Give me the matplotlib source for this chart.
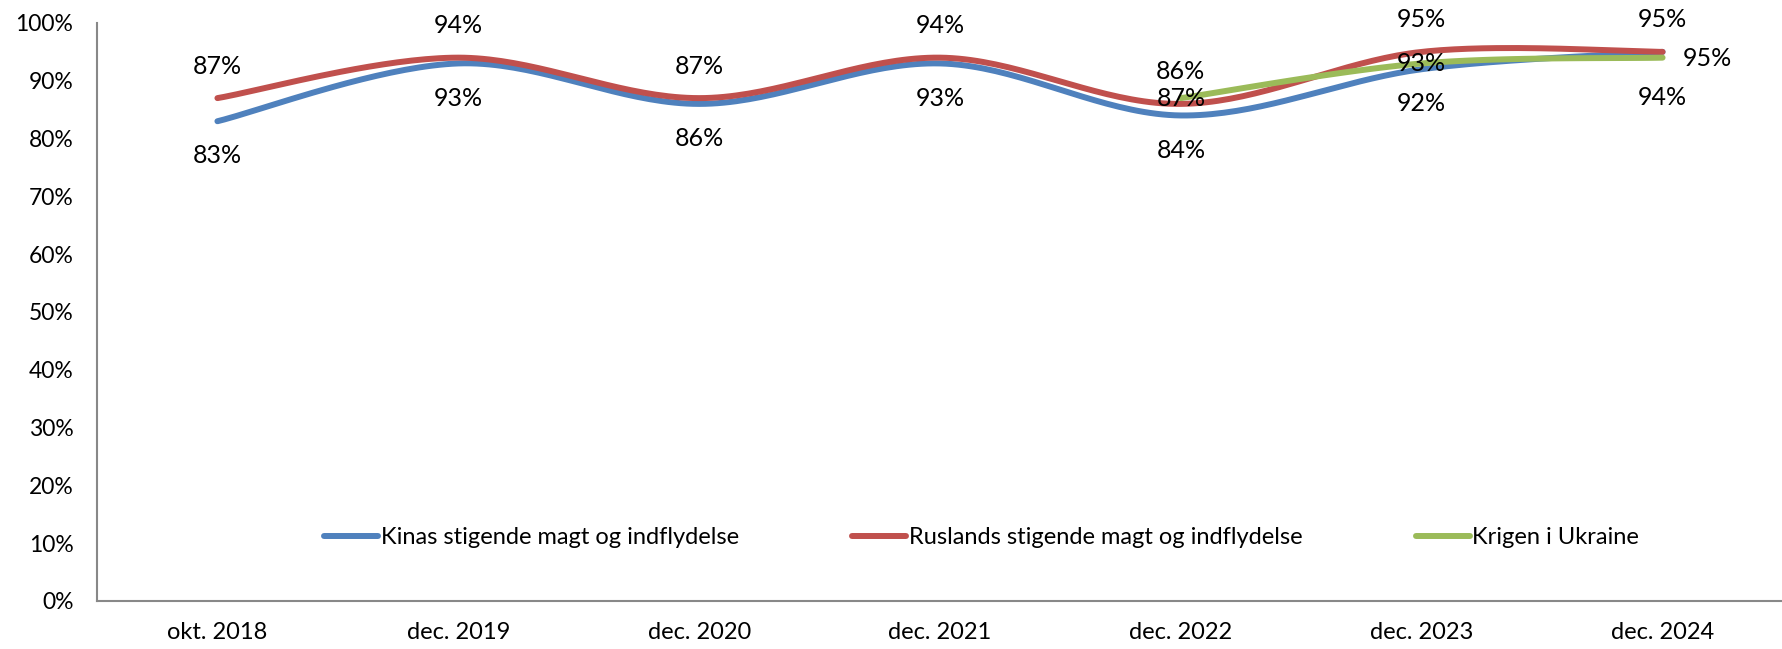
import matplotlib.pyplot as plt
import numpy as np

plt.rcParams['font.family'] = ['Lato', 'DejaVu Sans']

perioder = ["okt. 2018", "dec. 2019", "dec. 2020", "dec. 2021", "dec. 2022", "dec. 2023", "dec. 2024"]
kina = [0.83, 0.93, 0.86, 0.93, 0.84, 0.92, 0.95]
rusland = [0.87, 0.94, 0.87, 0.94, 0.86, 0.95, 0.95]
ukraine = [np.nan, np.nan, np.nan, np.nan, 0.87, 0.93, 0.94]

navne = ["Kinas stigende magt og indflydelse", "Ruslands stigende magt og indflydelse", "Krigen i Ukraine"]
farver = ["#4F81BD", "#C0504D", "#9BBB59"]
# label placement per series (last point of Kina/Ukraine moved like in the original)
placering = [["below"] * 6 + ["right"], ["above"] * 7, ["center"] * 6 + ["below"]]


def smooth(x, y, n=40):
    # Excel-like smoothed line: cubic bezier with catmull-rom control points
    x = np.asarray(x, float)
    y = np.asarray(y, float)
    xs, ys = [], []
    for i in range(len(x) - 1):
        p0 = np.array([x[max(i - 1, 0)], y[max(i - 1, 0)]])
        p1 = np.array([x[i], y[i]])
        p2 = np.array([x[i + 1], y[i + 1]])
        p3 = np.array([x[min(i + 2, len(x) - 1)], y[min(i + 2, len(x) - 1)]])
        c1 = p1 + (p2 - p0) / 6
        c2 = p2 - (p3 - p1) / 6
        t = np.linspace(0, 1, n)[:, None]
        pts = (1 - t) ** 3 * p1 + 3 * (1 - t) ** 2 * t * c1 + 3 * (1 - t) * t ** 2 * c2 + t ** 3 * p2
        xs.extend(pts[:, 0])
        ys.extend(pts[:, 1])
    return np.array(xs), np.array(ys)


fig = plt.figure(figsize=(17.83, 6.49), dpi=100)
ax = fig.add_axes([0.0544, 0.074, 0.9456, 0.8906])

x = np.arange(len(perioder))
for serie, navn, farve, plac in zip([kina, rusland, ukraine], navne, farver, placering):
    serie = np.array(serie)
    ok = ~np.isnan(serie)
    sx, sy = smooth(x[ok], serie[ok])
    ax.plot(sx, sy, color=farve, lw=4.3, solid_capstyle='round', label=navn)
    for xi, yi, p in zip(x[ok], serie[ok], np.array(plac)[ok]):
        off = {"above": (0, 23), "below": (0, -25), "center": (0, 0), "right": (32, -5)}[p]
        if p == "below" and xi == 6:
            off = (0, -29)
        ax.annotate(f"{yi * 100:.0f}%", (xi, yi), xytext=off, textcoords="offset points",
                    ha="center", va="center", fontsize=18)

ax.set_xlim(-0.5, 6.5)
ax.set_ylim(0, 1)
ax.set_xticks(x)
ax.set_xticklabels(perioder, fontsize=17)
ax.set_yticks(np.arange(0, 1.01, 0.1))
ax.set_yticklabels([f"{v}%" for v in range(0, 101, 10)], fontsize=16.5)
ax.tick_params(length=0)
ax.tick_params(axis='y', pad=17)
ax.tick_params(axis='x', pad=15)

for s in ["top", "right"]:
    ax.spines[s].set_visible(False)
for s in ["left", "bottom"]:
    ax.spines[s].set_color("#888888")
    ax.spines[s].set_linewidth(1.5)

ax.legend(loc="center left", bbox_to_anchor=(0.122, 0.11), ncol=3, frameon=False, fontsize=17,
          handlelength=2.3, handletextpad=0.1, columnspacing=4.8)

fig.savefig("out.png", dpi=100)
